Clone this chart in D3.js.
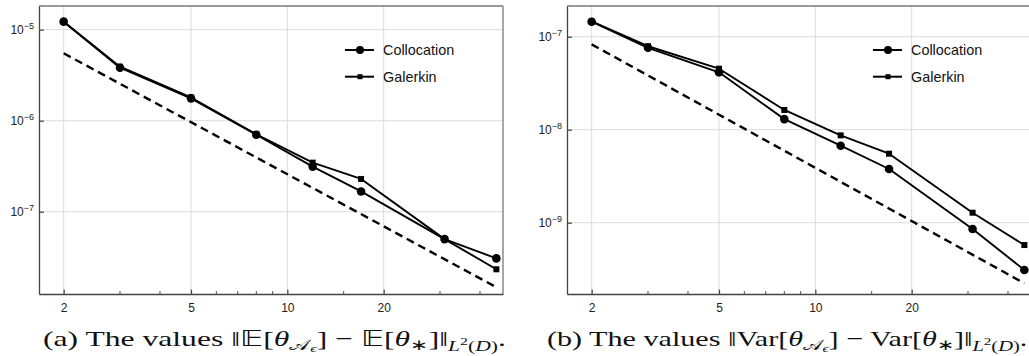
<!DOCTYPE html>
<html>
<head>
<meta charset="utf-8">
<script src="https://cdn.jsdelivr.net/npm/d3@7"></script>
<style>
  body { margin: 0; background: #fff; }
  svg { display: block; }
  .tick-label { font-family: "Liberation Sans", Arial, sans-serif; font-size: 12px; fill: #222; }
  .legend-label { font-family: "Liberation Sans", Arial, sans-serif; font-size: 14.4px; fill: #111; }
  .caption { font-family: "Liberation Serif", serif; font-size: 22px; fill: #111; }
</style>
</head>
<body>
<div id="chart"></div>
<script>
// sample sizes (x axis)
const xValues = [2, 3, 5, 8, 12, 17, 31, 45];
const xMajorTicks = [2, 5, 10, 20];
const xMinorTicks = [3, 4, 6, 7, 8, 9, 15, 30, 40];

// panel (a): mean error
const collocationMean = [1.225e-5, 3.82e-6, 1.76e-6, 7.0e-7, 3.13e-7, 1.67e-7, 5.0e-8, 3.07e-8];
const galerkinMean    = [1.22e-5, 3.92e-6, 1.80e-6, 7.1e-7, 3.46e-7, 2.29e-7, 5.0e-8, 2.33e-8];
const refMean         = [5.5e-6, 1.48e-8];
const yTicksMean      = [1e-5, 1e-6, 1e-7];

// panel (b): variance error
const collocationVar = [1.45e-7, 7.6e-8, 4.14e-8, 1.30e-8, 6.73e-9, 3.78e-9, 8.55e-10, 3.1e-10];
const galerkinVar    = [1.46e-7, 7.9e-8, 4.53e-8, 1.63e-8, 8.69e-9, 5.52e-9, 1.28e-9, 5.75e-10];
const refVar         = [8.28e-8, 2.23e-10];
const yTicksVar      = [1e-7, 1e-8, 1e-9];

// reference line spans these x values
const refX = [2, 45];

const seriesNames = ["Collocation", "Galerkin"];

const width = 1029, height = 356;
const svg = d3.select("#chart").append("svg")
    .attr("width", width)
    .attr("height", height);

const superscript = { "-": "\u2212", "0": "0", "1": "1", "2": "2", "3": "3", "4": "4", "5": "5", "6": "6", "7": "7", "8": "8", "9": "9" };

function drawPanel(opts) {
    const { left, right, top, bottom, yDomain, col, gal, ref, yTicks, legendX, caption } = opts;

    const x = d3.scaleLog().domain([1.675, 47.2]).range([left, right]);
    const y = d3.scaleLog().domain(yDomain).range([bottom, top]);

    const g = svg.append("g");

    // clip for the plot area
    const clipId = "clip" + Math.round(left);
    svg.append("clipPath").attr("id", clipId)
        .append("rect")
        .attr("x", left).attr("y", top)
        .attr("width", right - left).attr("height", bottom - top);

    // grid lines
    g.selectAll(".gx").data(xMajorTicks).enter().append("line")
        .attr("x1", d => x(d)).attr("x2", d => x(d))
        .attr("y1", top).attr("y2", bottom)
        .attr("stroke", "#dcdcdc").attr("stroke-width", 1);
    g.selectAll(".gy").data(yTicks).enter().append("line")
        .attr("x1", left).attr("x2", right)
        .attr("y1", d => y(d)).attr("y2", d => y(d))
        .attr("stroke", "#dcdcdc").attr("stroke-width", 1);

    // frame: top and right lighter
    g.append("line").attr("x1", left).attr("x2", right).attr("y1", top).attr("y2", top)
        .attr("stroke", "#777").attr("stroke-width", 1.3);
    g.append("line").attr("x1", right).attr("x2", right).attr("y1", top).attr("y2", bottom)
        .attr("stroke", "#777").attr("stroke-width", 1.3);

    // left & bottom axes with inward ticks
    const xAxis = d3.axisBottom(x).tickValues(xMajorTicks).tickFormat(d3.format("d"))
        .tickSizeInner(-4.5).tickSizeOuter(0).tickPadding(9);
    const gx = g.append("g").attr("transform", `translate(0,${bottom})`).call(xAxis);
    gx.select(".domain").attr("stroke", "#444").attr("stroke-width", 1.3);
    gx.selectAll(".tick line").attr("stroke", "#444").attr("stroke-width", 1.2);
    gx.selectAll(".tick text").attr("class", "tick-label").attr("fill", null);

    g.selectAll(".minor").data(xMinorTicks).enter().append("line")
        .attr("x1", d => x(d)).attr("x2", d => x(d))
        .attr("y1", bottom).attr("y2", bottom - 2.8)
        .attr("stroke", "#444").attr("stroke-width", 1);

    const yAxis = d3.axisLeft(y).tickValues(yTicks).tickFormat("")
        .tickSizeInner(-5).tickSizeOuter(0);
    const gy = g.append("g").attr("transform", `translate(${left},0)`).call(yAxis);
    gy.select(".domain").attr("stroke", "#444").attr("stroke-width", 1.3);
    gy.selectAll(".tick line").attr("stroke", "#444").attr("stroke-width", 1.2);

    // y tick labels as 10^n
    yTicks.forEach(t => {
        const e = Math.round(Math.log10(t));
        const txt = g.append("text").attr("class", "tick-label")
            .attr("x", left - 5).attr("y", y(t) + 4.5)
            .attr("text-anchor", "end");
        txt.append("tspan").text("10");
        txt.append("tspan").attr("dy", -5).style("font-size", "9px")
            .text(String(e).split("").map(c => superscript[c]).join(""));
    });

    const plot = g.append("g").attr("clip-path", `url(#${clipId})`);

    // dashed reference slope
    plot.append("path")
        .datum(refX.map((v, i) => [v, ref[i]]))
        .attr("d", d3.line().x(d => x(d[0])).y(d => y(d[1])))
        .attr("fill", "none").attr("stroke", "#000")
        .attr("stroke-width", 2.4).attr("stroke-dasharray", "8,5");

    const line = d3.line().x(d => x(d[0])).y(d => y(d[1]));
    const colPts = xValues.map((v, i) => [v, col[i]]);
    const galPts = xValues.map((v, i) => [v, gal[i]]);

    [colPts, galPts].forEach(pts => {
        plot.append("path").datum(pts).attr("d", line)
            .attr("fill", "none").attr("stroke", "#000").attr("stroke-width", 1.9)
            .attr("stroke-linejoin", "round");
    });

    g.selectAll(".sq").data(galPts).enter().append("rect")
        .attr("x", d => x(d[0]) - 3).attr("y", d => y(d[1]) - 3)
        .attr("width", 6).attr("height", 6).attr("fill", "#000");
    g.selectAll(".dot").data(colPts).enter().append("circle")
        .attr("cx", d => x(d[0])).attr("cy", d => y(d[1])).attr("r", 4.3)
        .attr("fill", "#000");

    // legend
    const legendRows = [50, 76.7];
    seriesNames.forEach((name, i) => {
        const ly = legendRows[i];
        g.append("line").attr("x1", legendX).attr("x2", legendX + 29)
            .attr("y1", ly).attr("y2", ly).attr("stroke", "#000").attr("stroke-width", 2);
        if (i === 0) {
            g.append("circle").attr("cx", legendX + 15).attr("cy", ly).attr("r", 4).attr("fill", "#000");
        } else {
            g.append("rect").attr("x", legendX + 12.5).attr("y", ly - 2.5)
                .attr("width", 5).attr("height", 5).attr("fill", "#000");
        }
        g.append("text").attr("class", "legend-label")
            .attr("x", legendX + 38).attr("y", ly + 5).text(name);
    });

    // caption
    const cap = svg.append("text").attr("class", "caption")
        .attr("x", caption.x).attr("y", 346);
    caption.parts.forEach(p => {
        const ts = cap.append("tspan").text(p.t);
        if (p.dy) ts.attr("dy", p.dy);
        if (p.size) ts.style("font-size", p.size + "px");
        if (p.italic) ts.style("font-style", "italic");
    });
    const w = cap.node().getComputedTextLength();
    const sx = caption.w / w;
    cap.attr("transform", `translate(${caption.x},0) scale(${sx},1) translate(${-caption.x},0)`);
}

function captionParts(label, op) {
    return [
        { t: `(${label}) The values \u2016${op}[` },
        { t: "\u03b8", italic: true },
        { t: "\ud835\udc9c", dy: 4, size: 15 },
        { t: "\u03f5", dy: 2.5, size: 11, italic: true },
        { t: `] \u2212 ${op}[`, dy: -6.5 },
        { t: "\u03b8", italic: true },
        { t: "\u2217", dy: 4, size: 15 },
        { t: "]\u2016", dy: -4 },
        { t: "L", dy: 5, size: 15, italic: true },
        { t: "2", dy: -6, size: 11 },
        { t: "(", dy: 6, size: 15 },
        { t: "D", size: 15, italic: true },
        { t: ")", size: 15 },
        { t: ".", dy: -5 }
    ];
}

drawPanel({
    left: 39, right: 503, top: 6, bottom: 294,
    yDomain: [1.247e-8, 1.82e-5],
    col: collocationMean, gal: galerkinMean, ref: refMean, yTicks: yTicksMean,
    legendX: 345,
    caption: { x: 43, w: 462, parts: captionParts("a", "\ud835\udd3c") }
});

drawPanel({
    left: 567, right: 1031, top: 6, bottom: 294,
    yDomain: [1.71e-10, 2.14e-7],
    col: collocationVar, gal: galerkinVar, ref: refVar, yTicks: yTicksVar,
    legendX: 873,
    caption: { x: 547, w: 481, parts: captionParts("b", "Var") }
});
</script>
</body>
</html>
